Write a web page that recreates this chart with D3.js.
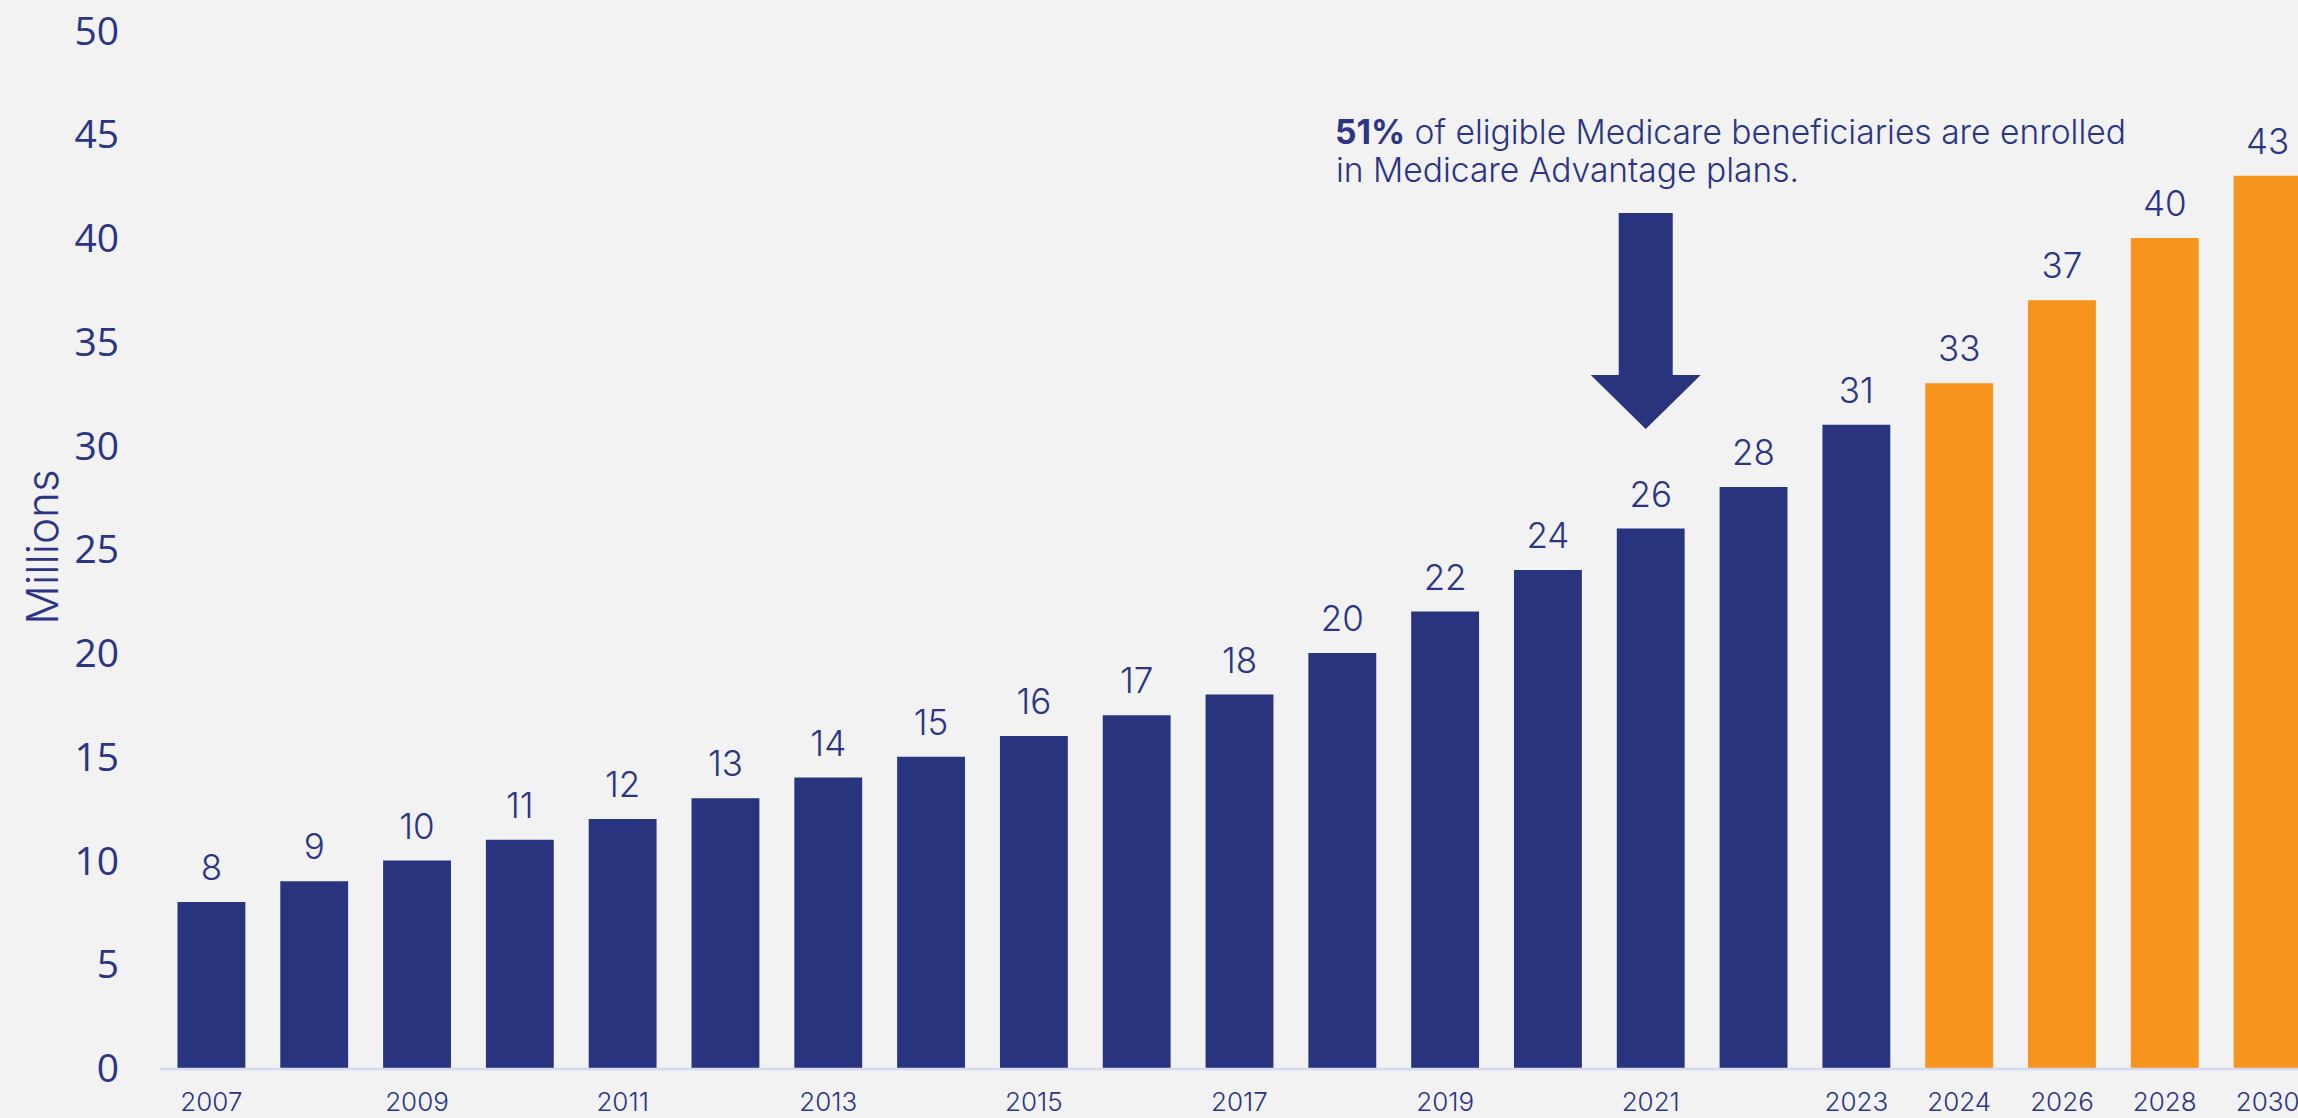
<!DOCTYPE html>
<html>
<head>
<meta charset="utf-8">
<script src="https://cdn.jsdelivr.net/npm/d3@7"></script>
<style>
  html, body { margin: 0; padding: 0; background: #f2f2f2; }
  svg { display: block; }
</style>
</head>
<body>
<div id="chart"></div>
<script>
// data
const years = ["2007", "2008", "2009", "2010", "2011", "2012", "2013", "2014", "2015",
               "2016", "2017", "2018", "2019", "2020", "2021", "2022", "2023",
               "2024", "2026", "2028", "2030"];
const enrollment = [8, 9, 10, 11, 12, 13, 14, 15, 16, 17, 18, 20, 22, 24, 26, 28, 31,
                    33, 37, 40, 43];
const projectedYears = ["2024", "2026", "2028", "2030"];
const shownYearLabels = ["2007", "2009", "2011", "2013", "2015", "2017", "2019", "2021",
                         "2023", "2024", "2026", "2028", "2030"];
const yTicks = [0, 5, 10, 15, 20, 25, 30, 35, 40, 45, 50];
const noteBold = "51%";
const noteLine1 = " of eligible Medicare beneficiaries are enrolled";
const noteLine2 = "in Medicare Advantage plans.";
const arrowYear = "2021";
const arrowTop = 41.2, arrowHeadBase = 33.4, arrowTip = 30.8;

const svgWidth = 2298, svgHeight = 1118;
const navy = "#29347f", orange = "#f7941e", textColor = "#2b3583";
const baseY = 1068, topY = 30.5;
const labelFont = "Inter, 'Open Sans', sans-serif";

let svg = d3.select("#chart")
    .append("svg")
    .attr("width", svgWidth)
    .attr("height", svgHeight);

svg.append("rect")
    .attr("width", svgWidth)
    .attr("height", svgHeight)
    .attr("fill", "#f2f2f2");

let x = d3.scaleBand()
    .domain(years)
    .range([160, 2319])
    .paddingInner(0.34)
    .paddingOuter(0.17);

let y = d3.scaleLinear()
    .domain([0, 50])
    .range([baseY, topY]);

// bars
svg.append("g")
    .selectAll("rect")
    .data(years)
    .enter()
    .append("rect")
        .attr("x", d => x(d))
        .attr("y", (d, i) => y(enrollment[i]))
        .attr("width", x.bandwidth())
        .attr("height", (d, i) => y(0) - y(enrollment[i]))
        .attr("fill", d => projectedYears.includes(d) ? orange : navy);

// value labels
svg.append("g")
    .selectAll("text")
    .data(years)
    .enter()
    .append("text")
        .attr("x", d => x(d) + x.bandwidth() / 2)
        .attr("y", (d, i) => y(enrollment[i]) - 22)
        .attr("text-anchor", "middle")
        .attr("fill", textColor)
        .style("font-family", labelFont)
        .style("font-size", "35px")
        .style("font-weight", 300)
        .text((d, i) => enrollment[i]);

// x axis
let xAxis = d3.axisBottom(x)
    .tickValues(shownYearLabels)
    .tickSize(0)
    .tickPadding(25);
let gx = svg.append("g")
    .attr("transform", `translate(0, ${baseY})`)
    .call(xAxis);
gx.select(".domain").remove();
gx.selectAll("text")
    .attr("fill", textColor)
    .style("font-family", labelFont)
    .style("font-size", "26px")
    .style("font-weight", 300);

svg.append("line")
    .attr("x1", 160)
    .attr("x2", svgWidth)
    .attr("y1", baseY + 1)
    .attr("y2", baseY + 1)
    .attr("stroke", "#d6daf0")
    .attr("stroke-width", 2.5);

// y axis
let yAxis = d3.axisLeft(y)
    .tickValues(yTicks)
    .tickSize(0)
    .tickPadding(0);
let gy = svg.append("g")
    .attr("transform", "translate(119, 0)")
    .call(yAxis);
gy.select(".domain").remove();
gy.selectAll("text")
    .attr("fill", textColor)
    .attr("dy", "0.35em")
    .style("font-family", "'Open Sans', 'Noto Sans', sans-serif")
    .style("font-size", "39px");

svg.append("text")
    .attr("transform", `translate(58, 547) rotate(-90)`)
    .attr("text-anchor", "middle")
    .attr("fill", textColor)
    .style("font-family", labelFont)
    .style("font-size", "44px")
    .style("font-weight", 300)
    .text("Millions");

// arrow pointing at 2021
let ax = x(arrowYear) + x.bandwidth() / 2 - 5;
let shaft = 27, head = 55;
let arrowPath = d3.path();
arrowPath.moveTo(ax - shaft, y(arrowTop));
arrowPath.lineTo(ax + shaft, y(arrowTop));
arrowPath.lineTo(ax + shaft, y(arrowHeadBase));
arrowPath.lineTo(ax + head, y(arrowHeadBase));
arrowPath.lineTo(ax, y(arrowTip));
arrowPath.lineTo(ax - head, y(arrowHeadBase));
arrowPath.lineTo(ax - shaft, y(arrowHeadBase));
arrowPath.closePath();
svg.append("path")
    .attr("d", arrowPath.toString())
    .attr("fill", navy);

// annotation
let note = svg.append("text")
    .attr("x", 1335)
    .attr("y", 144)
    .attr("fill", textColor)
    .style("font-family", labelFont)
    .style("font-size", "33.6px")
    .style("font-weight", 300);
note.append("tspan")
    .style("font-weight", 700)
    .text(noteBold);
note.append("tspan")
    .text(noteLine1);
svg.append("text")
    .attr("x", 1336)
    .attr("y", 182)
    .attr("fill", textColor)
    .style("font-family", labelFont)
    .style("font-size", "33.6px")
    .style("font-weight", 300)
    .text(noteLine2);
</script>
</body>
</html>
